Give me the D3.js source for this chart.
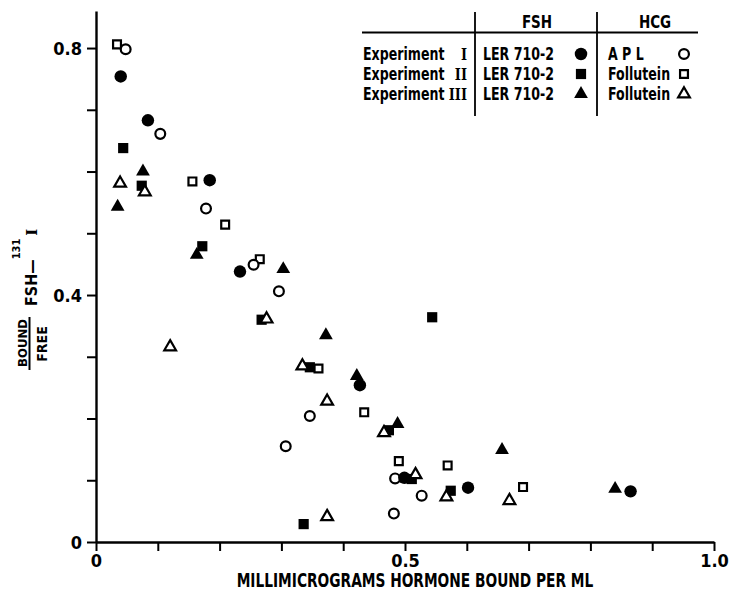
<!DOCTYPE html>
<html>
<head>
<meta charset="utf-8">
<script src="https://cdn.jsdelivr.net/npm/d3@7"></script>
<style>
  body { margin: 0; background: #fff; }
  svg { display: block; }
  text { font-family: "DejaVu Sans Condensed", "Liberation Sans Narrow", sans-serif; font-weight: bold; fill: #000; }
</style>
</head>
<body>
<svg id="chart"></svg>
<script>
// values: [hormone bound (mug/ml), bound/free]
const fshI = [[0.040,0.754],[0.084,0.683],[0.184,0.586],[0.233,0.438],[0.427,0.254],[0.499,0.104],[0.602,0.088],[0.865,0.082]];
const hcgI = [[0.048,0.798],[0.104,0.661],[0.178,0.540],[0.255,0.449],[0.296,0.406],[0.346,0.204],[0.307,0.155],[0.484,0.103],[0.527,0.075],[0.482,0.046]];
const fshII = [[0.044,0.638],[0.074,0.577],[0.172,0.479],[0.268,0.360],[0.544,0.364],[0.346,0.283],[0.474,0.181],[0.511,0.102],[0.574,0.083],[0.336,0.029]];
const hcgII = [[0.034,0.806],[0.156,0.584],[0.209,0.514],[0.265,0.458],[0.360,0.281],[0.434,0.210],[0.490,0.131],[0.569,0.124],[0.691,0.089]];
const fshIII = [[0.076,0.600],[0.035,0.543],[0.163,0.465],[0.303,0.442],[0.372,0.335],[0.422,0.269],[0.488,0.191],[0.657,0.149],[0.840,0.086]];
const hcgIII = [[0.039,0.581],[0.079,0.567],[0.120,0.316],[0.276,0.361],[0.334,0.285],[0.374,0.228],[0.466,0.177],[0.517,0.109],[0.567,0.073],[0.669,0.067],[0.374,0.041]];

const xTicks = [0,0.1,0.2,0.3,0.4,0.5,0.6,0.7,0.8,0.9,1.0];
const xTickLabels = ["0","","","","","0.5","","","","","1.0"];
const yTicks = [0,0.1,0.2,0.3,0.4,0.5,0.6,0.7,0.8];
const yTickLabels = ["0","","","","0.4","","","","0.8"];

const legendExperiments = ["I","II","III"];
const legendFsh = ["LER 710-2","LER 710-2","LER 710-2"];
const legendHcg = ["A P L","Follutein","Follutein"];

class ScatterPlot {
  constructor(_config) {
    this.config = {
      parentElement: _config.parentElement,
      containerWidth: _config.containerWidth || 733,
      containerHeight: _config.containerHeight || 593
    };
    this.initVis();
  }

  initVis() {
    let vis = this;
    vis.svg = d3.select(vis.config.parentElement)
        .attr('width', vis.config.containerWidth)
        .attr('height', vis.config.containerHeight);

    vis.xScale = d3.scaleLinear().domain([0, 1]).range([96, 714]);
    vis.yScale = d3.scaleLinear().domain([0, 0.86]).range([542, 11]);

    // shapes: filled / open versions
    vis.shapes = {
      fillCircle: {type: d3.symbolCircle, size: 122, fill: '#000', stroke: 'none'},
      openCircle: {type: d3.symbolCircle, size: 76, fill: '#fff', stroke: '#000'},
      fillSquare: {type: d3.symbolSquare, size: 104, fill: '#000', stroke: 'none'},
      openSquare: {type: d3.symbolSquare, size: 62, fill: '#fff', stroke: '#000'},
      fillTri: {type: d3.symbolTriangle, size: 82, fill: '#000', stroke: 'none'},
      openTri: {type: d3.symbolTriangle, size: 60, fill: '#fff', stroke: '#000'}
    };

    vis.series = [
      {data: fshII, shape: 'fillSquare'},
      {data: hcgIII, shape: 'openTri'},
      {data: hcgII, shape: 'openSquare'},
      {data: hcgI, shape: 'openCircle'},
      {data: fshI, shape: 'fillCircle'},
      {data: fshIII, shape: 'fillTri'}
    ];

    this.renderVis();
  }

  drawSymbol(g, shapeKey, x, y) {
    let s = this.shapes[shapeKey];
    g.append('path')
        .attr('d', d3.symbol().type(s.type).size(s.size)())
        .attr('transform', `translate(${x},${y})`)
        .attr('fill', s.fill)
        .attr('stroke', s.stroke)
        .attr('stroke-width', 2.2);
  }

  // tall condensed label, like the lettering of the original
  tallText(g, x, y, str, size, anchor) {
    return g.append('text')
        .attr('transform', `translate(${x},${y}) scale(1,1.22)`)
        .attr('text-anchor', anchor || 'start')
        .style('font-size', size + 'px')
        .text(str);
  }

  renderVis() {
    let vis = this;

    // axes
    const xAxis = d3.axisBottom(vis.xScale)
        .tickValues(xTicks)
        .tickFormat((d, i) => xTickLabels[i])
        .tickSize(9).tickSizeOuter(0).tickPadding(3);
    const yAxis = d3.axisLeft(vis.yScale)
        .tickValues(yTicks)
        .tickFormat((d, i) => yTickLabels[i])
        .tickSize(9).tickSizeOuter(0).tickPadding(5);

    const gx = vis.svg.append('g')
        .attr('transform', `translate(0,${vis.yScale(0)})`)
        .call(xAxis);
    const gy = vis.svg.append('g')
        .attr('transform', `translate(${vis.xScale(0)},0)`)
        .call(yAxis);

    [gx, gy].forEach(g => {
      g.select('.domain').attr('stroke', '#000').attr('stroke-width', 2.4);
      g.selectAll('.tick line').attr('stroke', '#000').attr('stroke-width', 2);
      g.selectAll('.tick text')
          .style('font-family', '"DejaVu Sans Condensed", sans-serif')
          .style('font-weight', 'bold')
          .style('font-size', '18px')
          .attr('fill', '#000');
    });
    gy.selectAll('.tick text').attr('dy', '0.36em');

    // x title
    vis.tallText(vis.svg, 415, 587, 'MILLIMICROGRAMS HORMONE BOUND PER ML', 15.3, 'middle');

    // y title: BOUND / FREE  FSH-131I
    vis.svg.append('text')
        .attr('transform', 'translate(27,343) rotate(-90)')
        .attr('text-anchor', 'middle')
        .style('font-size', '13px')
        .text('BOUND');
    vis.svg.append('line')
        .attr('x1', 29.5).attr('x2', 29.5)
        .attr('y1', 317).attr('y2', 370)
        .attr('stroke', '#000').attr('stroke-width', 2);
    vis.svg.append('text')
        .attr('transform', 'translate(47,344) rotate(-90)')
        .attr('text-anchor', 'middle')
        .style('font-size', '14px')
        .text('FREE');

    const ylab = vis.svg.append('text')
        .attr('transform', 'translate(37,306) rotate(-90)')
        .style('font-size', '16px');
    ylab.append('tspan').text('FSH\u2014');
    ylab.append('tspan').attr('dy', -17).style('font-size', '11px').text('131');
    ylab.append('tspan').attr('dy', 17).attr('dx', 3)
        .style('font-family', '"DejaVu Serif", serif')
        .style('font-size', '15px')
        .text('I');

    // points
    const pts = vis.svg.append('g');
    vis.series.forEach(s => {
      s.data.forEach(d => vis.drawSymbol(pts, s.shape, vis.xScale(d[0]), vis.yScale(d[1])));
    });

    // legend table
    const lg = vis.svg.append('g');
    lg.append('line').attr('x1', 362).attr('x2', 698).attr('y1', 32.5).attr('y2', 32.5)
        .attr('stroke', '#000').attr('stroke-width', 1.8);
    [475, 597].forEach(x => {
      lg.append('line').attr('x1', x).attr('x2', x).attr('y1', 12).attr('y2', 116)
          .attr('stroke', '#000').attr('stroke-width', 1.8);
    });
    vis.tallText(lg, 537, 28, 'FSH', 15, 'middle');
    vis.tallText(lg, 655, 28, 'HCG', 15, 'middle');

    const fshShapes = ['fillCircle', 'fillSquare', 'fillTri'];
    const hcgShapes = ['openCircle', 'openSquare', 'openTri'];
    const rowY = [60, 80, 100];
    legendExperiments.forEach((num, i) => {
      let y = rowY[i];
      vis.tallText(lg, 363, y, 'Experiment', 14);
      lg.append('text')
          .attr('transform', `translate(467,${y}) scale(1,1.22)`)
          .attr('text-anchor', 'end')
          .style('font-family', '"DejaVu Serif", serif')
          .style('font-size', '13px').text(num);
      vis.tallText(lg, 483, y, legendFsh[i], 14);
      vis.tallText(lg, 608, y, legendHcg[i], 14);
      vis.drawSymbol(lg, fshShapes[i], 581, y - 6);
      vis.drawSymbol(lg, hcgShapes[i], 684, y - 6);
    });
  }
}

new ScatterPlot({parentElement: '#chart'});
</script>
</body>
</html>
